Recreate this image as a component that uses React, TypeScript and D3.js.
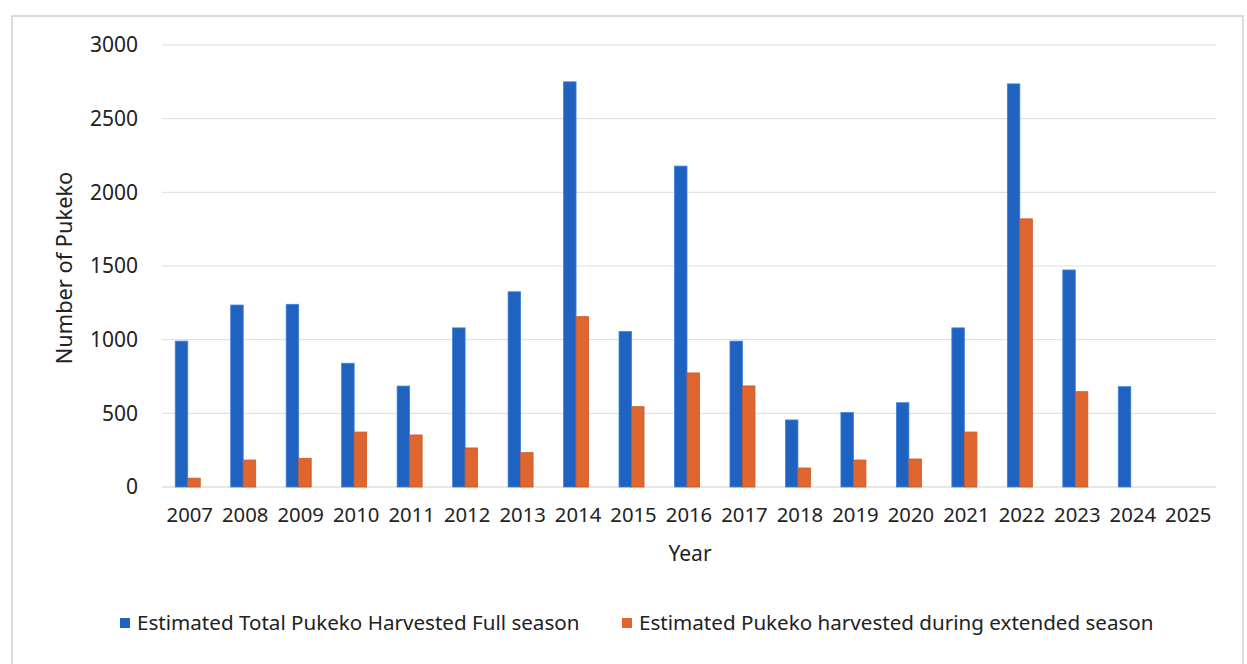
import React from "react";
import * as d3 from "d3";

const years = [
  "2007", "2008", "2009", "2010", "2011", "2012", "2013", "2014", "2015", "2016",
  "2017", "2018", "2019", "2020", "2021", "2022", "2023", "2024", "2025",
];
// Estimated Total Pukeko Harvested Full season
const fullSeason = [
  990, 1235, 1240, 840, 685, 1080, 1325, 2750, 1055, 2178,
  990, 455, 505, 572, 1080, 2736, 1473, 681, null,
];
// Estimated Pukeko harvested during extended season
const extendedSeason = [
  60, 183, 195, 373, 353, 265, 233, 1156, 545, 774,
  686, 129, 183, 190, 373, 1820, 647, null, null,
];
const yTicks = [0, 500, 1000, 1500, 2000, 2500, 3000];
const seriesNames = [
  "Estimated Total Pukeko Harvested Full season",
  "Estimated Pukeko harvested during extended season",
];

const W = 1247;
const H = 664;
const FONT = "'Noto Sans', sans-serif";
const BLUE = "#1f62c0";
const ORANGE = "#df662f";

const App: React.FC = () => {
  const margin = { left: 162, right: 31, top: 45, bottom: 177 };

  const x = d3
    .scaleBand<string>()
    .domain(years)
    .range([margin.left, W - margin.right]);

  const y = d3
    .scaleLinear()
    .domain([0, 3000])
    .range([H - margin.bottom, margin.top]);

  const barW = 12.5;
  const series = [fullSeason, extendedSeason];
  const colors = [BLUE, ORANGE];

  return (
    <svg
      width={W}
      height={H}
      style={{ position: "absolute", left: 0, top: 0, background: "#fff" }}
      fontFamily={FONT}
    >
      {/* chart frame */}
      <rect x={12} y={16} width={1231} height={H} fill="none" stroke="#d0d0d0" strokeWidth={1.5} />

      {/* gridlines */}
      {yTicks.map((t) => (
        <line
          key={"g" + t}
          x1={margin.left}
          x2={W - margin.right}
          y1={y(t)}
          y2={y(t)}
          stroke={t === 0 ? "#d0d0d0" : "#dcdcdc"}
          strokeWidth={1}
        />
      ))}

      {/* y tick labels */}
      {yTicks.map((t) => (
        <text
          key={"t" + t}
          x={margin.left - 24}
          y={y(t)}
          dy="0.35em"
          textAnchor="end"
          fontSize={21}
          fill="#222"
        >
          {t}
        </text>
      ))}

      {/* bars */}
      {series.map((vals, si) =>
        vals.map((v, i) =>
          v == null ? null : (
            <rect
              key={si + "-" + i}
              x={(x(years[i]) as number) + x.bandwidth() / 2 - barW + si * barW - 2}
              y={y(v)}
              width={barW}
              height={y(0) - y(v)}
              fill={colors[si]}
              stroke={si === 0 ? "#3b82e0" : "#c8582a"}
              strokeWidth={0.8}
            />
          )
        )
      )}

      {/* x tick labels */}
      {years.map((yr) => (
        <text
          key={"x" + yr}
          x={(x(yr) as number) + x.bandwidth() / 2}
          y={y(0) + 35}
          textAnchor="middle"
          fontSize={20.3}
          fill="#222"
        >
          {yr}
        </text>
      ))}

      {/* axis titles */}
      <text x={690} y={561} textAnchor="middle" fontSize={21} fill="#222">
        Year
      </text>
      <text
        transform={`translate(72,${y(1500) + 2}) rotate(-90)`}
        textAnchor="middle"
        fontSize={21.8}
        fill="#222"
      >
        Number of Pukeko
      </text>

      {/* legend */}
      {seriesNames.map((name, i) => {
        const lx = i === 0 ? 120 : 622;
        return (
          <g key={name} transform={`translate(${lx},623)`}>
            <rect x={0} y={-5} width={10} height={10} fill={colors[i]} />
            <text x={17} y={0} dy="0.35em" fontSize={20.6} fill="#222">
              {name}
            </text>
          </g>
        );
      })}
    </svg>
  );
};

export default App;
